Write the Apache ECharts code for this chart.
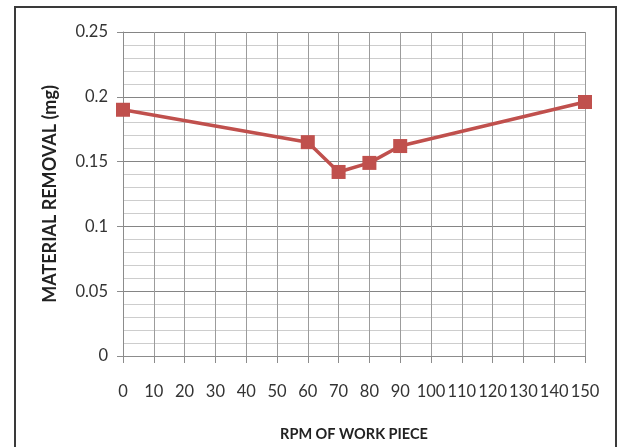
<!DOCTYPE html>
<html>
<head>
<meta charset="utf-8">
<script src="https://cdn.jsdelivr.net/npm/echarts@6/dist/echarts.min.js"></script>
<style>
  html, body { margin: 0; padding: 0; background: #fff; }
  #chart { width: 620px; height: 447px; }
</style>
</head>
<body>
<div id="chart"></div>
<script>
// Workpiece speed (RPM) and measured material removal (mg)
const rpm = [0, 60, 70, 80, 90, 150];
const removal = [0.19, 0.165, 0.142, 0.149, 0.162, 0.196];

// Axis ranges and tick steps
const xTicks = [0, 10, 20, 30, 40, 50, 60, 70, 80, 90, 100, 110, 120, 130, 140, 150];
const yTicks = [0, 0.05, 0.1, 0.15, 0.2, 0.25];

const xAxisTitle = 'RPM OF WORK PIECE';
const yAxisTitle = 'MATERIAL REMOVAL (mg)';

const font = 'Lato, "Open Sans", sans-serif';

const chart = echarts.init(document.getElementById('chart'), null, { renderer: 'canvas' });

chart.setOption({
  backgroundColor: '#ffffff',
  animation: false,
  graphic: [{
    type: 'rect',
    shape: { x: 15, y: 7, width: 601, height: 470 },
    style: { fill: 'none', stroke: '#3a3a3a', lineWidth: 2 },
    silent: true,
    z: 100
  }],
  grid: { left: 123, right: 35, top: 32, bottom: 89 },
  xAxis: {
    type: 'value',
    min: xTicks[0],
    max: xTicks[xTicks.length - 1],
    interval: xTicks[1] - xTicks[0],
    name: xAxisTitle,
    nameLocation: 'middle',
    nameGap: 71,
    nameTextStyle: { fontFamily: font, fontWeight: 'bold', fontSize: 14.5, color: '#222' },
    axisLine: { show: true, lineStyle: { color: '#8c8c8c', width: 1 } },
    axisTick: { show: true, length: 7, lineStyle: { color: '#8c8c8c' } },
    axisLabel: {
      fontFamily: font, fontSize: 16.5, color: '#333', margin: 27,
      formatter: v => String(v)
    },
    splitLine: { show: true, lineStyle: { color: '#9c9c9c', width: 1 } }
  },
  yAxis: {
    type: 'value',
    min: yTicks[0],
    max: yTicks[yTicks.length - 1],
    interval: yTicks[1] - yTicks[0],
    name: yAxisTitle,
    nameLocation: 'middle',
    nameGap: 64,
    nameRotate: 90,
    nameTextStyle: { fontFamily: font, fontWeight: 'bold', fontSize: 18, color: '#222' },
    axisLine: { show: true, lineStyle: { color: '#8c8c8c', width: 1 } },
    axisTick: { show: true, length: 6, lineStyle: { color: '#8c8c8c' } },
    axisLabel: {
      fontFamily: font, fontSize: 16.5, color: '#333', margin: 15,
      formatter: v => String(+v.toFixed(2))
    },
    splitLine: { show: true, lineStyle: { color: '#858585', width: 1 } },
    minorTick: { show: false, splitNumber: 5 },
    minorSplitLine: { show: true, lineStyle: { color: '#cdcdcd', width: 1 } }
  },
  series: [{
    type: 'line',
    data: rpm.map((x, i) => [x, removal[i]]),
    symbol: 'rect',
    symbolSize: 14,
    itemStyle: { color: '#c0504d' },
    lineStyle: { color: '#c0504d', width: 3.5 },
    z: 5
  }]
});
</script>
</body>
</html>
